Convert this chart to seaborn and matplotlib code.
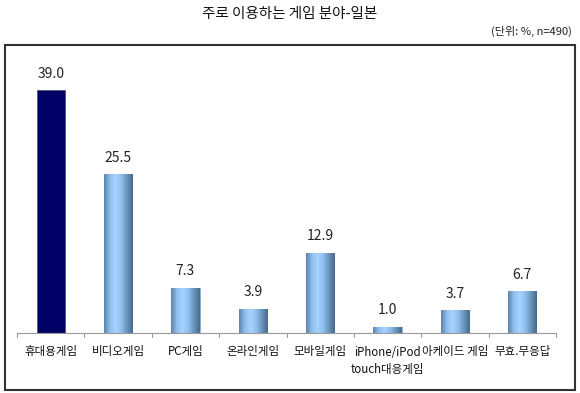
import numpy as np
import matplotlib
matplotlib.use("Agg")
import matplotlib.pyplot as plt
from matplotlib.colors import LinearSegmentedColormap
from matplotlib.patches import Rectangle
import seaborn as sns
import pandas as pd

categories = ["휴대용게임", "비디오게임", "PC게임", "온라인게임", "모바일게임",
              "iPhone/iPod\ntouch대응게임", "아케이드 게임", "무효.무응답"]
values = [39.0, 25.5, 7.3, 3.9, 12.9, 1.0, 3.7, 6.7]
title = "주로 이용하는 게임 분야-일본"
unit_note = "(단위: %, n=490)"

sns.set_theme(style="white")
plt.rcParams['font.family'] = ['Noto Sans CJK KR', 'DejaVu Sans']

df = pd.DataFrame({"cat": categories, "val": values})
colors = ["#000066"] + ["#8fc0ef"] * (len(categories) - 1)

fig = plt.figure(figsize=(5.8, 3.93), dpi=100)
ax = fig.add_axes([17/580, 1 - 333/393, (556 - 17)/580, (333 - 55)/393])
sns.barplot(data=df, x="cat", y="val", hue="cat", palette=colors, legend=False,
            width=0.42, ax=ax, edgecolor="none", saturation=1)

ax.set_ylim(0, 278/6.23)
ax.set_xlim(-0.5, len(categories) - 0.5)

# gradient overlay for light bars
cmap = LinearSegmentedColormap.from_list(
    "cyl", ["#5d83aa", "#8dbeec", "#a6d3ff", "#8ebfee", "#6a92ba", "#466a8e"])
grad = np.linspace(0, 1, 256).reshape(1, -1)
for i, p in enumerate(ax.patches):
    if i == 0:
        p.set_edgecolor("#555577")
        p.set_linewidth(0.6)
        continue
    x0, y0 = p.get_x(), p.get_y()
    w, h = p.get_width(), p.get_height()
    im = ax.imshow(grad, cmap=cmap, extent=[x0, x0 + w, y0, y0 + h],
                   aspect="auto", zorder=p.get_zorder() + 0.1)
    im.set_clip_path(p)
    p.set_edgecolor("#7f9fbf")
    p.set_linewidth(0.5)

for i, v in enumerate(values):
    ax.text(i, v + 1.5, f"{v:.1f}", ha="center", va="bottom", fontsize=10,
            color="#222222")

for s in ["top", "right", "left"]:
    ax.spines[s].set_visible(False)
ax.spines["bottom"].set_color("#999999")
ax.spines["bottom"].set_linewidth(0.8)
ax.set_yticks([])
ax.set_xlabel("")
ax.set_ylabel("")
ax.set_xticks(range(len(categories)))
ax.set_xticklabels(categories, fontsize=8.3, color="#111111", linespacing=1.5,
                   va="top")
ax.tick_params(axis="x", length=0, pad=9)
# boundary tick marks
for b in np.arange(-0.5, len(categories) + 0.5, 1.0):
    ax.plot([b, b], [0, -0.7], color="#999999", lw=0.8, clip_on=False)

fig.text(0.5, 1 - 14/393, title, ha="center", va="center", fontsize=10.5,
         color="#111111")
fig.text(572/580, 1 - 31/393, unit_note, ha="right", va="center", fontsize=8,
         color="#222222")

fig.patches.append(Rectangle((5/580, 1 - 390/393), 570/580, 345/393,
                             transform=fig.transFigure, fill=False,
                             edgecolor="#333333", linewidth=1.5))

fig.savefig("out.png", dpi=100)
